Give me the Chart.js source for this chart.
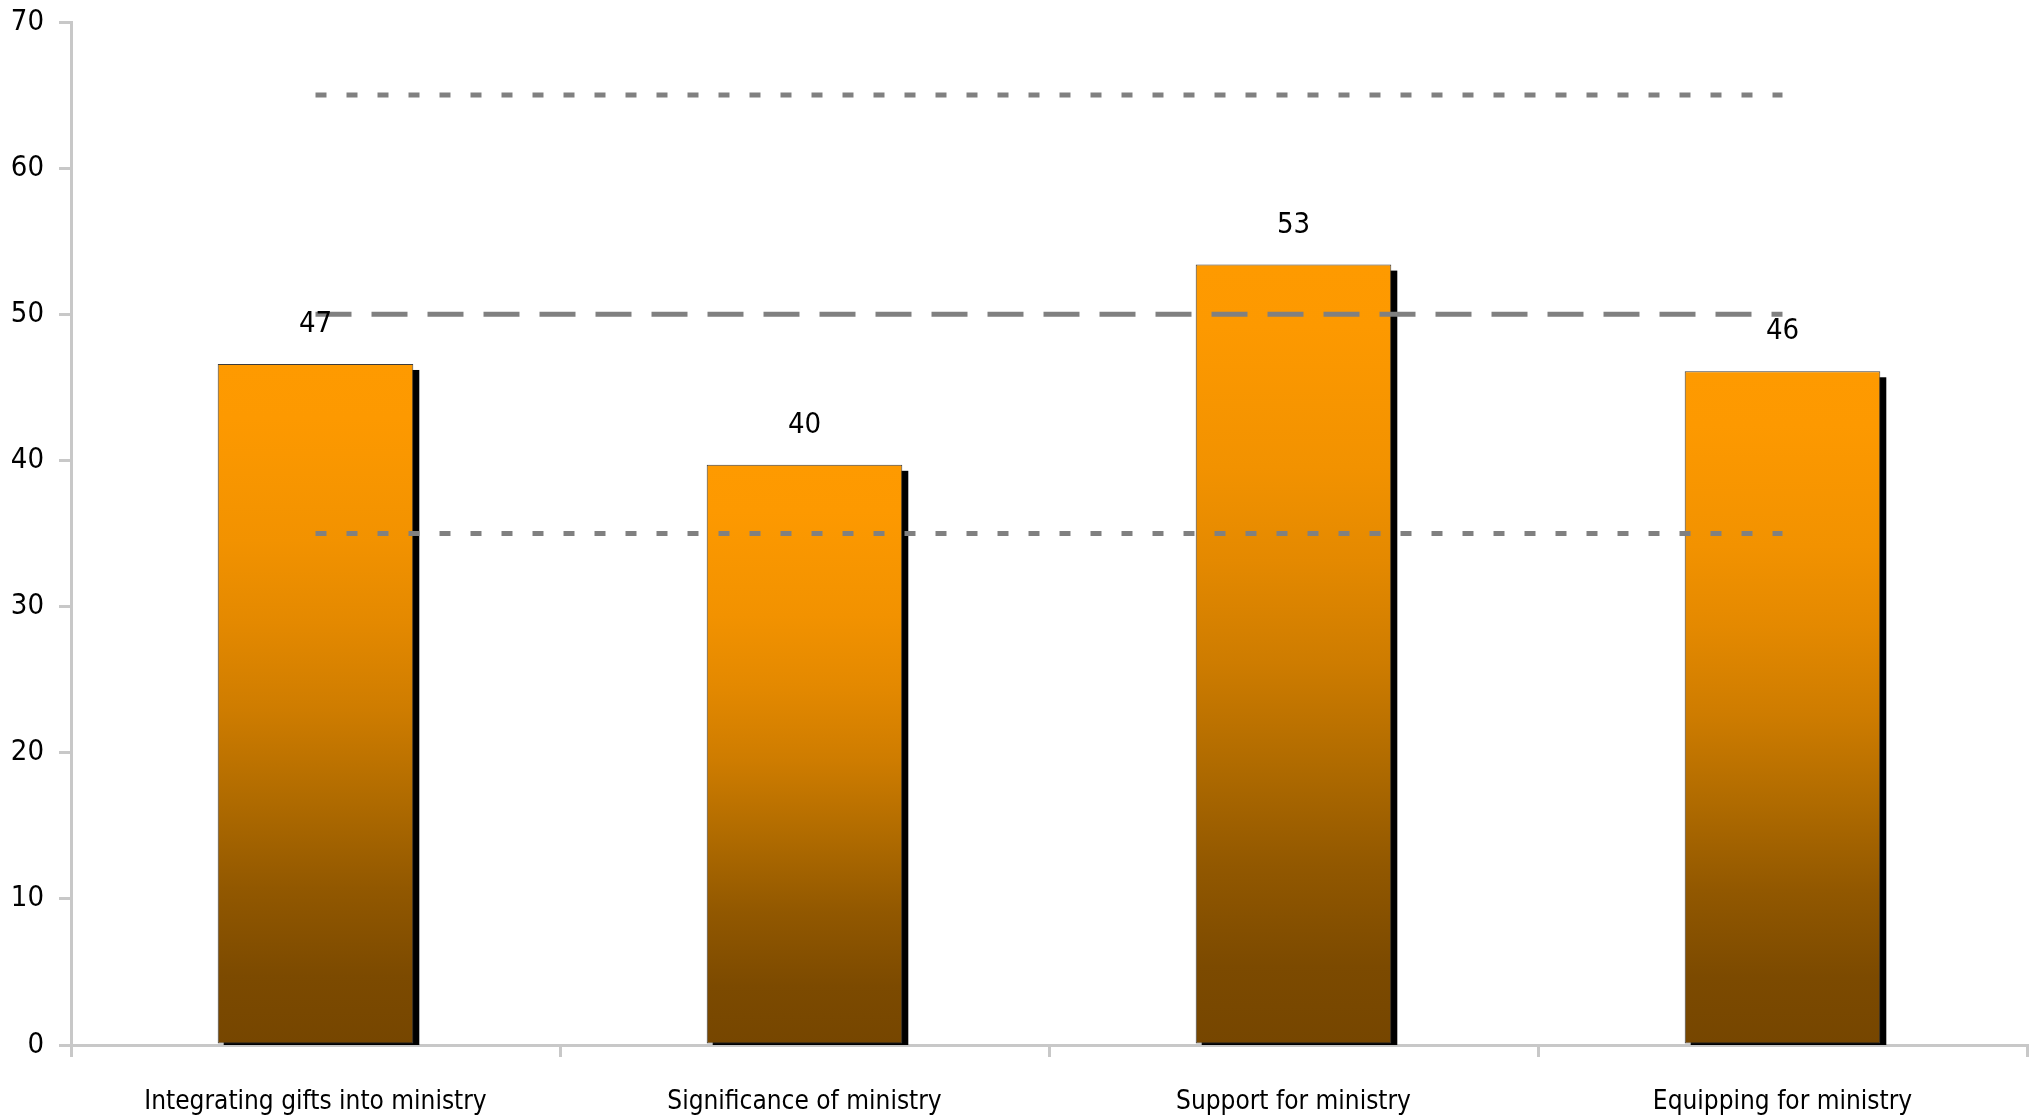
<!DOCTYPE html>
<html>
<head>
<meta charset="utf-8">
<script src="https://cdn.jsdelivr.net/npm/chart.js@4/dist/chart.umd.min.js"></script>
<style>
    body { margin: 0; background: #fff; }
    canvas { display: block; }
</style>
</head>
<body>
<canvas id="grafico" width="2038" height="1117"></canvas>
<script>
const categorias = ['Integrating gifts into ministry', 'Significance of ministry', 'Support for ministry', 'Equipping for ministry'];
const valores = [46.6, 39.7, 53.4, 46.1];
const linhaSuperior = [65, 65, 65, 65];
const linhaMedia = [50, 50, 50, 50];
const linhaInferior = [35, 35, 35, 35];
const ticksY = [0, 10, 20, 30, 40, 50, 60, 70];

const fonte = "'DejaVu Sans Condensed', 'DejaVu Sans', sans-serif";
const corEixo = '#c8c8c8';

// Paradas do gradiente das barras (do topo para a base).
const paradas = [
    [0, '#fe9a00'],
    [0.08, '#fd9900'],
    [0.26, '#f29200'],
    [0.38, '#e48900'],
    [0.51, '#ce7c00'],
    [0.64, '#b06b00'],
    [0.77, '#925800'],
    [0.9, '#7c4a00'],
    [1, '#764600']
];

// Gradiente de cada barra: laranja no topo, marrom na base.
function corBarra(context) {
    const chart = context.chart;
    if (!chart.chartArea || context.type !== 'data') return '#fd9900';
    const y = chart.scales.y;
    const topo = y.getPixelForValue(context.raw);
    const base = y.getPixelForValue(0);
    const g = chart.ctx.createLinearGradient(0, topo, 0, base);
    paradas.forEach(function(p) { g.addColorStop(p[0], p[1]); });
    return g;
}

// Sombra preta deslocada atrás das barras (usa a posição das próprias barras).
const sombra = {
    id: 'sombra',
    beforeDatasetDraw(chart, args) {
        if (args.meta.type !== 'bar') return;
        const ctx = chart.ctx;
        const area = chart.chartArea;
        ctx.save();
        ctx.beginPath();
        ctx.rect(area.left, area.top, area.right - area.left, area.bottom - area.top);
        ctx.clip();
        ctx.fillStyle = '#000';
        args.meta.data.forEach(function(barra) {
            const p = barra.getProps(['x', 'y', 'base', 'width'], true);
            ctx.fillRect(p.x - p.width / 2 + 6, p.y + 6, p.width, p.base - p.y);
        });
        ctx.restore();
    }
};

// Rótulos com o valor acima de cada barra.
const rotulos = {
    id: 'rotulos',
    afterDatasetsDraw(chart) {
        const ctx = chart.ctx;
        const meta = chart.getDatasetMeta(3);
        ctx.save();
        ctx.font = '29px ' + fonte;
        ctx.fillStyle = '#000';
        ctx.textAlign = 'center';
        ctx.textBaseline = 'alphabetic';
        meta.data.forEach(function(barra, i) {
            ctx.fillText(Math.round(valores[i]), barra.x, barra.y - 32);
        });
        ctx.restore();
    }
};

function linha(dados, tracejado) {
    return {
        type: 'line',
        data: dados,
        borderColor: '#808080',
        borderWidth: 5,
        borderDash: tracejado,
        borderCapStyle: 'butt',
        pointRadius: 0,
        fill: false,
        order: 1
    };
}

new Chart(document.getElementById('grafico'), {
    data: {
        labels: categorias,
        datasets: [
            linha(linhaSuperior, [11, 20]),
            linha(linhaMedia, [36, 20]),
            linha(linhaInferior, [11, 20]),
            {
                type: 'bar',
                data: valores,
                backgroundColor: corBarra,
                borderColor: '#3c3c3c',
                borderWidth: 1,
                borderSkipped: false,
                categoryPercentage: 0.8,
                barPercentage: 0.5,
                order: 2
            }
        ]
    },
    options: {
        responsive: false,
        animation: false,
        events: [],
        layout: { padding: { top: 0, right: 11, left: 0, bottom: 0 } },
        plugins: {
            legend: { display: false },
            tooltip: { enabled: false }
        },
        scales: {
            x: {
                afterFit(scale) { scale.height = 72; },
                grid: {
                    offset: true,
                    drawOnChartArea: false,
                    tickLength: 12,
                    color: corEixo,
                    lineWidth: 3
                },
                border: { color: corEixo, width: 3 },
                ticks: {
                    color: '#000',
                    font: { family: fonte, size: 26 },
                    padding: 30,
                    maxRotation: 0
                }
            },
            y: {
                min: 0,
                max: 70,
                afterFit(scale) {
                    scale.width = 71;
                    scale.paddingTop = 22;
                    scale.paddingBottom = 0;
                },
                afterBuildTicks(scale) {
                    scale.ticks = ticksY.map(function(v) { return { value: v }; });
                },
                grid: {
                    drawOnChartArea: false,
                    tickLength: 12,
                    color: corEixo,
                    lineWidth: 3
                },
                border: { color: corEixo, width: 3 },
                ticks: {
                    color: '#000',
                    font: { family: fonte, size: 29 },
                    padding: 15
                }
            }
        }
    },
    plugins: [sombra, rotulos]
});
</script>
</body>
</html>
